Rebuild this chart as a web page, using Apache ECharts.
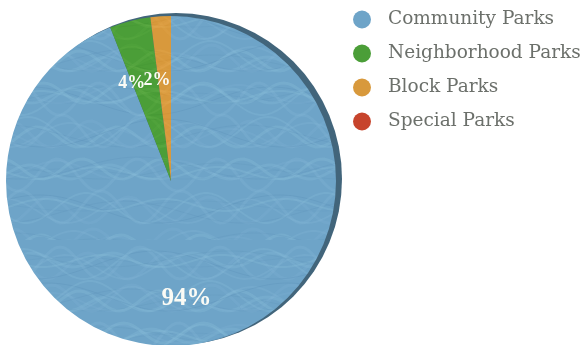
<!DOCTYPE html>
<html>
<head>
<meta charset="utf-8">
<script src="https://cdn.jsdelivr.net/npm/echarts@6/dist/echarts.min.js"></script>
<style>
html,body{margin:0;padding:0;background:#fff;}
#c{width:584px;height:345px;}
</style>
</head>
<body>
<div id="c"></div>
<script>
const categories = ['Community Parks', 'Neighborhood Parks', 'Block Parks', 'Special Parks'];
const values = [94, 4, 2, 0];
const colors = ['#6ea4c8', '#4b9e38', '#d8993c', '#c7442c'];

function brushPattern(base, light, dark) {
  const W = 240;
  const cv = document.createElement('canvas');
  cv.width = W; cv.height = W;
  const g = cv.getContext('2d');
  g.fillStyle = base; g.fillRect(0, 0, W, W);
  for (let i = 0; i < 60; i++) {
    const y0 = (i * 37) % 260 - 10;
    const amp = 5 + (i * 7) % 12;
    const k = 1 + (i % 3);
    const ph = i * 1.3;
    g.beginPath();
    for (let x = 0; x <= W; x += 4) {
      const y = y0 + amp * Math.sin(x * 2 * Math.PI * k / W + ph);
      if (x === 0) g.moveTo(x, y); else g.lineTo(x, y);
    }
    g.strokeStyle = i % 3 === 0 ? dark : light;
    g.globalAlpha = 0.15 + (i % 4) * 0.05;
    g.lineWidth = 1 + (i % 3);
    g.stroke();
  }
  g.globalAlpha = 1;
  return cv;
}

const patterns = [
  brushPattern('#6ea4c8', '#8cbfdc', '#5a8fb6'),
  brushPattern('#4b9e38', '#66b44c', '#3d8a2e'),
  brushPattern('#d8993c', '#e6ab52', '#c9862f'),
  brushPattern('#c7442c', '#d85a40', '#b23a24')
];

const chart = echarts.init(document.getElementById('c'), null, {renderer: 'canvas'});
const total = values.reduce((a, b) => a + b, 0);
const maxVal = Math.max.apply(null, values);
const labelPads = [[0, 0, 0, 0], [0, 14, 0, 0], [0, 4, 0, 0], [0, 0, 0, 0]];

chart.setOption({
  animation: false,
  color: colors,
  legend: {
    data: categories.map((n, i) => ({name: n, itemStyle: {color: colors[i]}})),
    orient: 'vertical',
    left: 353,
    top: 10,
    padding: 0,
    icon: 'circle',
    itemWidth: 18,
    itemHeight: 18,
    itemGap: 15,
    textStyle: {fontFamily: 'DejaVu Serif', fontSize: 18.5, color: '#6c706b', padding: [0, 0, 0, 12]}
  },
  series: [
    {
      type: 'pie',
      name: 'edge',
      center: [176, 179],
      radius: [0, 166],
      silent: true,
      z: 1,
      label: {show: false},
      labelLine: {show: false},
      itemStyle: {color: '#42657b'},
      data: [{name: 'edge', value: total}]
    },
    {
      type: 'pie',
      name: 'Parks',
      center: [171, 181],
      radius: [0, 165],
      startAngle: 90,
      clockwise: true,
      z: 2,
      label: {show: false},
      labelLine: {show: false},
      data: categories.map((n, i) => ({
        name: n, value: values[i],
        itemStyle: {color: {image: patterns[i], repeat: 'repeat'}}
      }))
    },
    {
      type: 'pie',
      name: 'labels',
      center: [166, 190],
      radius: [48, 166],
      startAngle: 90,
      clockwise: true,
      silent: true,
      z: 3,
      avoidLabelOverlap: false,
      minShowLabelAngle: 1,
      itemStyle: {color: 'rgba(0,0,0,0)'},
      labelLayout: {hideOverlap: false},
      label: {
        show: true,
        position: 'inside',
        formatter: p => Math.round(p.percent) + '%',
        fontFamily: 'Liberation Serif',
        fontWeight: 'bold',
        fontSize: 18,
        color: '#fbfbf5'
      },
      labelLine: {show: false},
      data: categories.map((n, i) => ({
        name: n, value: values[i],
        label: values[i] === maxVal ? {fontSize: 25} : {padding: labelPads[i]}
      }))
    }
  ]
});
</script>
</body>
</html>
